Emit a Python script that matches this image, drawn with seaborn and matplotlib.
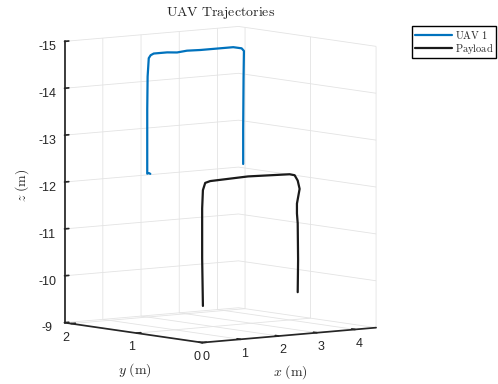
import numpy as np
import matplotlib.pyplot as plt
import seaborn as sns

sns.set_theme(style="white")
plt.rcParams['font.family'] = ['Liberation Sans', 'DejaVu Sans']
plt.rcParams['mathtext.fontset'] = 'cm'
plt.rcParams['axes.unicode_minus'] = False

# UAV trajectory (m)
uav_x = [0.10, 0.06, 0.02, 0.02, 0.02, 0.03, 0.06, 0.11, 0.19, 0.54, 0.80, 1.06, 1.41, 1.84, 2.27, 2.49, 2.55, 2.54, 2.53, 2.53]
uav_y = [0.85] * len(uav_x)
uav_z = [-12.42, -12.44, -12.43, -13.0, -13.8, -14.5, -14.89, -14.95, -14.98, -14.98, -14.96, -14.98, -14.97, -14.97, -14.97, -14.93, -14.87, -14.3, -13.2, -12.46]

# payload trajectory (m)
pay_x = [0.02, 0.00, 0.00, 0.02, 0.08, 0.21, 1.20, 2.29, 2.42, 2.50, 2.55, 2.48, 2.48, 2.50, 2.51, 2.50]
pay_y = [0.0] * len(pay_x)
pay_z = [-9.78, -10.8, -11.86, -12.25, -12.40, -12.43, -12.46, -12.43, -12.40, -12.28, -12.10, -11.79, -11.58, -11.37, -10.59, -9.90]

fig = plt.figure(figsize=(4.98, 3.84), dpi=100)
ax = fig.add_axes([-0.008, 0.006, 0.88, 1.0], projection='3d', proj_type='ortho')

ax.plot(uav_x, uav_y, uav_z, color='#0072BD', lw=1.6, label=r'$\mathrm{UAV\ 1}$')
ax.plot(pay_x, pay_y, pay_z, color='#1a1a1a', lw=1.6, label=r'$\mathrm{Payload}$')

ax.set_xlim(0, 4.55)
ax.set_ylim(0, 2.1)
ax.set_zlim(-15, -9)
ax.invert_zaxis()
ax.set_xticks([0, 1, 2, 3, 4])
ax.set_yticks([0, 1, 2])
ax.set_zticks([-15, -14, -13, -12, -11, -10, -9])
ax.view_init(elev=6.4, azim=-127.6)
ax.set_box_aspect((221, 227, 285), zoom=1.07)

for axis in (ax.xaxis, ax.yaxis, ax.zaxis):
    axis.set_pane_color((1, 1, 1, 0))
    axis.pane.set_edgecolor('#dedede')
    axis.line.set_color('#262626')
    axis._axinfo['grid'].update(color='#e3e3e3', linewidth=0.6)
    axis._axinfo['tick'].update(inward_factor=0.0, outward_factor=0.3)
ax.tick_params(labelsize=9, colors='#262626', pad=0)
ax.tick_params(axis='x', pad=-4)
ax.tick_params(axis='y', pad=-4)

# axis labels and title placed in figure pixels
fig.text(290 / 498, 1 - 372 / 384, r'$x\ \mathrm{(m)}$', fontsize=10, ha='center', va='center')
fig.text(135 / 498, 1 - 370 / 384, r'$y\ \mathrm{(m)}$', fontsize=10, ha='center', va='center')
fig.text(22 / 498, 1 - 185 / 384, r'$z\ \mathrm{(m)}$', fontsize=10, ha='center', va='center', rotation=90)
fig.text(221 / 498, 1 - 13 / 384, r'$\mathrm{UAV\ Trajectories}$', fontsize=10, ha='center', va='center')

fig.legend(loc='upper left', bbox_to_anchor=(412 / 498, 1 - 26 / 384), fontsize=7.5,
           frameon=True, fancybox=False, edgecolor='black', framealpha=1,
           handlelength=3.6, borderpad=0.25, labelspacing=0.1, handletextpad=0.25,
           borderaxespad=0)

fig.savefig('out.png', dpi=100)
